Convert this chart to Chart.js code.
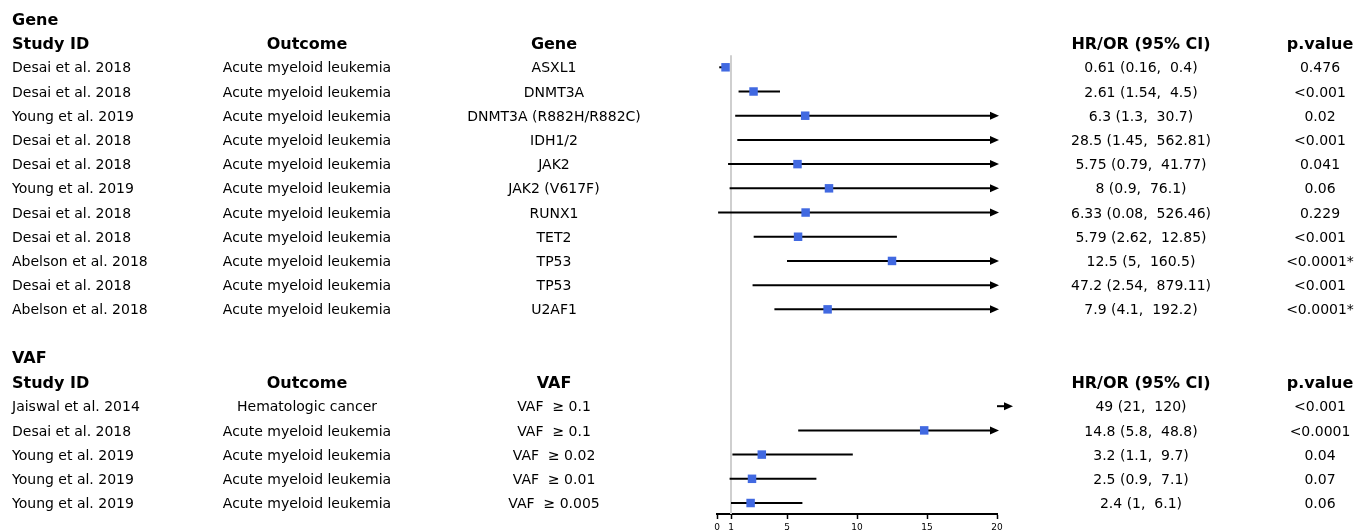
<!DOCTYPE html>
<html>
<head>
<meta charset="utf-8">
<script src="https://cdn.jsdelivr.net/npm/chart.js@4.4.1/dist/chart.umd.min.js"></script>
<style>
html,body{margin:0;padding:0;background:#fff;}
#wrap{width:1367px;height:532px;position:relative;}
</style>
</head>
<body>
<div id="wrap"><canvas id="c" width="1367" height="532"></canvas></div>
<script>
// ---- Gene section ----
const geneStudies = ["Desai et al. 2018","Desai et al. 2018","Young et al. 2019","Desai et al. 2018","Desai et al. 2018","Young et al. 2019","Desai et al. 2018","Desai et al. 2018","Abelson et al. 2018","Desai et al. 2018","Abelson et al. 2018"];
const geneOutcomes = ["Acute myeloid leukemia","Acute myeloid leukemia","Acute myeloid leukemia","Acute myeloid leukemia","Acute myeloid leukemia","Acute myeloid leukemia","Acute myeloid leukemia","Acute myeloid leukemia","Acute myeloid leukemia","Acute myeloid leukemia","Acute myeloid leukemia"];
const geneNames = ["ASXL1","DNMT3A","DNMT3A (R882H/R882C)","IDH1/2","JAK2","JAK2 (V617F)","RUNX1","TET2","TP53","TP53","U2AF1"];
const geneEst = [0.61,2.61,6.3,28.5,5.75,8,6.33,5.79,12.5,47.2,7.9];
const geneLo  = [0.16,1.54,1.3,1.45,0.79,0.9,0.08,2.62,5,2.54,4.1];
const geneHi  = [0.4,4.5,30.7,562.81,41.77,76.1,526.46,12.85,160.5,879.11,192.2];
const geneP   = ["0.476","<0.001","0.02","<0.001","0.041","0.06","0.229","<0.001","<0.0001*","<0.001","<0.0001*"];

// ---- VAF section ----
const vafStudies = ["Jaiswal et al. 2014","Desai et al. 2018","Young et al. 2019","Young et al. 2019","Young et al. 2019"];
const vafOutcomes = ["Hematologic cancer","Acute myeloid leukemia","Acute myeloid leukemia","Acute myeloid leukemia","Acute myeloid leukemia"];
const vafNames = ["VAF  \u2265 0.1","VAF  \u2265 0.1","VAF  \u2265 0.02","VAF  \u2265 0.01","VAF  \u2265 0.005"];
const vafEst = [49,14.8,3.2,2.5,2.4];
const vafLo  = [21,5.8,1.1,0.9,1];
const vafHi  = [120,48.8,9.7,7.1,6.1];
const vafP   = ["<0.001","<0.0001","0.04","0.07","0.06"];

const xTicks = [0,1,5,10,15,20];
const xMin = 0, xMax = 20;

// build rows
const rows = [];
function addSection(title, colTitle, studies, outcomes, names, est, lo, hi, p){
  rows.push({type:'title', text:title});
  rows.push({type:'header', col:colTitle});
  for(let i=0;i<studies.length;i++){
    rows.push({type:'data', study:studies[i], outcome:outcomes[i], name:names[i], est:est[i], lo:lo[i], hi:hi[i],
      ci: est[i]+' ('+lo[i]+',  '+hi[i]+')', p:p[i]});
  }
}
addSection("Gene","Gene",geneStudies,geneOutcomes,geneNames,geneEst,geneLo,geneHi,geneP);
rows.push({type:'blank'});
addSection("VAF","VAF",vafStudies,vafOutcomes,vafNames,vafEst,vafLo,vafHi,vafP);

const points = [];
rows.forEach((r,i)=>{ if(r.type==='data') points.push({x:r.est, y:i, lo:r.lo, hi:r.hi}); });

const FONT = "'DejaVu Sans', sans-serif";
const COLS = {study:12, outcome:307, name:554, ci:1141, p:1320};
const TEXT_DY = 1.5;

const forestPlugin = {
  id:'forest',
  beforeDatasetsDraw(chart){
    const ctx = chart.ctx, xs = chart.scales.x, ys = chart.scales.y;
    ctx.save();
    // reference line at x=1
    ctx.strokeStyle = '#cfcfcf'; ctx.lineWidth = 2;
    ctx.beginPath();
    ctx.moveTo(xs.getPixelForValue(1), ys.getPixelForValue(1.5));
    ctx.lineTo(xs.getPixelForValue(1), chart.chartArea.bottom);
    ctx.stroke();
    // CI lines
    ctx.strokeStyle = '#000'; ctx.fillStyle = '#000'; ctx.lineWidth = 2;
    function arrowHead(x,y){
      ctx.beginPath(); ctx.moveTo(x+2,y); ctx.lineTo(x-7,y-4); ctx.lineTo(x-7,y+4); ctx.closePath(); ctx.fill();
    }
    points.forEach(pt=>{
      const y = ys.getPixelForValue(pt.y);
      const xEnd = xs.getPixelForValue(xMax);
      if(pt.lo > xMax){
        ctx.beginPath(); ctx.moveTo(xEnd, y); ctx.lineTo(xEnd+10, y); ctx.stroke();
        arrowHead(xEnd+14, y);
        return;
      }
      const x1 = xs.getPixelForValue(Math.max(pt.lo, xMin));
      const x2 = xs.getPixelForValue(Math.min(pt.hi, xMax));
      ctx.beginPath(); ctx.moveTo(x1, y); ctx.lineTo(pt.hi > xMax ? x2-4 : x2, y); ctx.stroke();
      if(pt.hi > xMax) arrowHead(x2, y);
    });
    ctx.restore();
  },
  afterDraw(chart){
    const ctx = chart.ctx, ys = chart.scales.y;
    ctx.save();
    ctx.fillStyle = '#000';
    ctx.textBaseline = 'middle';
    rows.forEach((r,i)=>{
      const y = ys.getPixelForValue(i) + TEXT_DY;
      if(r.type==='title'){
        ctx.font = "bold 16px "+FONT; ctx.textAlign='left';
        ctx.fillText(r.text, COLS.study, y);
      } else if(r.type==='header'){
        ctx.font = "bold 16px "+FONT;
        ctx.textAlign='left'; ctx.fillText("Study ID", COLS.study, y);
        ctx.textAlign='center';
        ctx.fillText("Outcome", COLS.outcome, y);
        ctx.fillText(r.col, COLS.name, y);
        ctx.fillText("HR/OR (95% CI)", COLS.ci, y);
        ctx.fillText("p.value", COLS.p, y);
      } else if(r.type==='data'){
        ctx.font = "14px "+FONT;
        ctx.textAlign='left'; ctx.fillText(r.study, COLS.study, y);
        ctx.textAlign='center';
        ctx.fillText(r.outcome, COLS.outcome, y);
        ctx.fillText(r.name, COLS.name, y);
        ctx.fillText(r.ci, COLS.ci, y);
        ctx.fillText(r.p, COLS.p, y);
      }
    });
    ctx.restore();
  }
};

new Chart(document.getElementById('c'), {
  type:'scatter',
  data:{datasets:[{
    data: points,
    pointStyle:'rect',
    pointRadius:6,
    pointHoverRadius:6,
    backgroundColor:'#4169E1',
    borderColor:'#4169E1',
    borderWidth:0
  }]},
  options:{
    responsive:false,
    animation:false,
    events:[],
    layout:{autoPadding:false, padding:{left:717, right:370, top:0, bottom:0}},
    plugins:{legend:{display:false}, tooltip:{enabled:false}},
    scales:{
      x:{
        type:'linear', min:xMin, max:xMax,
        afterBuildTicks(s){ s.ticks = xTicks.map(v=>({value:v})); },
        afterFit(s){ s.height = 18; },
        grid:{drawOnChartArea:false, drawTicks:true, tickLength:5, tickColor:'#000', tickWidth:1.5},
        border:{display:true, color:'#000', width:2},
        ticks:{font:{size:9, family:FONT}, color:'#000', padding:3, maxRotation:0, autoSkip:false}
      },
      y:{
        type:'linear', min:-0.78, max:20.454, reverse:true, display:false
      }
    }
  },
  plugins:[forestPlugin]
});
</script>
</body>
</html>
